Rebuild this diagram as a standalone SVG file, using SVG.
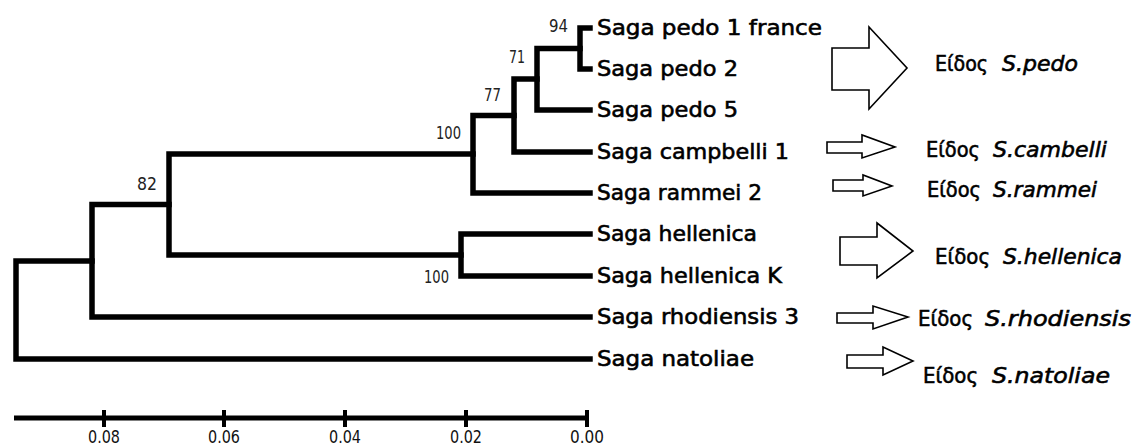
<svg xmlns="http://www.w3.org/2000/svg" width="1140" height="446" viewBox="0 0 1140 446">
<style>
.br{fill:none;stroke:#000;stroke-width:5.5;stroke-linecap:square;stroke-linejoin:miter}
.ax{fill:none;stroke:#000;stroke-width:5}
.tk{fill:none;stroke:#000;stroke-width:4}
.bs{font-family:"DejaVu Sans",sans-serif;font-size:17px;fill:#222}
.sc{font-family:"DejaVu Sans",sans-serif;font-size:17px;fill:#111;text-anchor:middle}
.tx{font-family:"DejaVu Sans",sans-serif;font-size:21px;fill:#000;stroke:#000;stroke-width:0.6}
.sp{font-family:"DejaVu Sans",sans-serif;font-size:22px;fill:#000;stroke:#000;stroke-width:0.6}
.it{font-style:italic}
.ar{fill:#fff;stroke:#000;stroke-width:1.6;stroke-linejoin:miter}
</style>
<rect width="1140" height="446" fill="#fff"/>
<g id="connectors">
<path class="br" d="M590,28 H580 V69 H590"/>
<path class="br" d="M580,48.5 H537 V110 H590"/>
<path class="br" d="M537,79 H514 V152 H590"/>
<path class="br" d="M514,115.5 H473 V193 H590"/>
<path class="br" d="M590,234 H461 V276 H590"/>
<path class="br" d="M473,154 H169 V255 H461"/>
<path class="br" d="M169,204.5 H92 V317 H590"/>
<path class="br" d="M92,261 H16 V359 H590"/>
</g>
<g id="bootstrap">
<text class="bs" x="549" y="32" textLength="19" lengthAdjust="spacingAndGlyphs">94</text>
<text class="bs" x="509" y="63" textLength="16" lengthAdjust="spacingAndGlyphs">71</text>
<text class="bs" x="484" y="101" textLength="17" lengthAdjust="spacingAndGlyphs">77</text>
<text class="bs" x="436" y="139" textLength="25" lengthAdjust="spacingAndGlyphs">100</text>
<text class="bs" x="137" y="190" textLength="20" lengthAdjust="spacingAndGlyphs">82</text>
<text class="bs" x="424" y="283" textLength="25" lengthAdjust="spacingAndGlyphs">100</text>
</g>
<g id="taxon-pedo1"><text class="tx" x="597" y="35" textLength="225" lengthAdjust="spacingAndGlyphs">Saga pedo 1 france</text></g>
<g id="taxon-pedo2"><text class="tx" x="597" y="76" textLength="141" lengthAdjust="spacingAndGlyphs">Saga pedo 2</text></g>
<g id="taxon-pedo5"><text class="tx" x="597" y="117" textLength="141" lengthAdjust="spacingAndGlyphs">Saga pedo 5</text></g>
<g id="taxon-campbelli1"><text class="tx" x="597" y="159" textLength="192" lengthAdjust="spacingAndGlyphs">Saga campbelli 1</text></g>
<g id="taxon-rammei2"><text class="tx" x="597" y="200" textLength="165" lengthAdjust="spacingAndGlyphs">Saga rammei 2</text></g>
<g id="taxon-hellenica"><text class="tx" x="597" y="241" textLength="160" lengthAdjust="spacingAndGlyphs">Saga hellenica</text></g>
<g id="taxon-hellenicaK"><text class="tx" x="597" y="283" textLength="185" lengthAdjust="spacingAndGlyphs">Saga hellenica K</text></g>
<g id="taxon-rhodiensis3"><text class="tx" x="597" y="324" textLength="202" lengthAdjust="spacingAndGlyphs">Saga rhodiensis 3</text></g>
<g id="taxon-natoliae"><text class="tx" x="597" y="366" textLength="157" lengthAdjust="spacingAndGlyphs">Saga natoliae</text></g>
<g id="species-pedo">
<polygon class="ar" points="832,48 869,48 869,27 907,68 869,109 869,90 832,90"/>
<text class="sp" x="935" y="71" textLength="53" lengthAdjust="spacingAndGlyphs">Είδος</text>
<text class="sp it" x="1002" y="71" textLength="76" lengthAdjust="spacingAndGlyphs">S.pedo</text>
</g>
<g id="species-cambelli">
<polygon class="ar" points="827,142 862,142 862,135 895,147 862,158 862,153 827,153"/>
<text class="sp" x="926" y="157" textLength="54" lengthAdjust="spacingAndGlyphs">Είδος</text>
<text class="sp it" x="993" y="157" textLength="114" lengthAdjust="spacingAndGlyphs">S.cambelli</text>
</g>
<g id="species-rammei">
<polygon class="ar" points="833,180 863,180 863,175 892,186 863,196 863,191 833,191"/>
<text class="sp" x="927" y="197" textLength="54" lengthAdjust="spacingAndGlyphs">Είδος</text>
<text class="sp it" x="993" y="197" textLength="104" lengthAdjust="spacingAndGlyphs">S.rammei</text>
</g>
<g id="species-hellenica">
<polygon class="ar" points="840,237 877,237 877,223 913,251 877,278 877,265 840,265"/>
<text class="sp" x="935" y="264" textLength="55" lengthAdjust="spacingAndGlyphs">Είδος</text>
<text class="sp it" x="1003" y="264" textLength="119" lengthAdjust="spacingAndGlyphs">S.hellenica</text>
</g>
<g id="species-rhodiensis">
<polygon class="ar" points="837,313 873,313 873,306 908,317 873,329 873,323 837,323"/>
<text class="sp" x="918" y="326" textLength="55" lengthAdjust="spacingAndGlyphs">Είδος</text>
<text class="sp it" x="985" y="326" textLength="146" lengthAdjust="spacingAndGlyphs">S.rhodiensis</text>
</g>
<g id="species-natoliae">
<polygon class="ar" points="847,355 883,355 883,347 913,361 883,375 883,368 847,368"/>
<text class="sp" x="923" y="383" textLength="55" lengthAdjust="spacingAndGlyphs">Είδος</text>
<text class="sp it" x="992" y="383" textLength="118" lengthAdjust="spacingAndGlyphs">S.natoliae</text>
</g>
<g id="scale-axis">
<path class="ax" d="M14,418 H589"/>
<path class="tk" d="M104,410 V427 M224,410 V427 M345,410 V427 M466,410 V427 M587,410 V427"/>
<text class="sc" x="104" y="443" textLength="32" lengthAdjust="spacingAndGlyphs">0.08</text>
<text class="sc" x="224" y="443" textLength="32" lengthAdjust="spacingAndGlyphs">0.06</text>
<text class="sc" x="345" y="443" textLength="32" lengthAdjust="spacingAndGlyphs">0.04</text>
<text class="sc" x="466" y="443" textLength="32" lengthAdjust="spacingAndGlyphs">0.02</text>
<text class="sc" x="587" y="443" textLength="34" lengthAdjust="spacingAndGlyphs">0.00</text>
</g>
</svg>
